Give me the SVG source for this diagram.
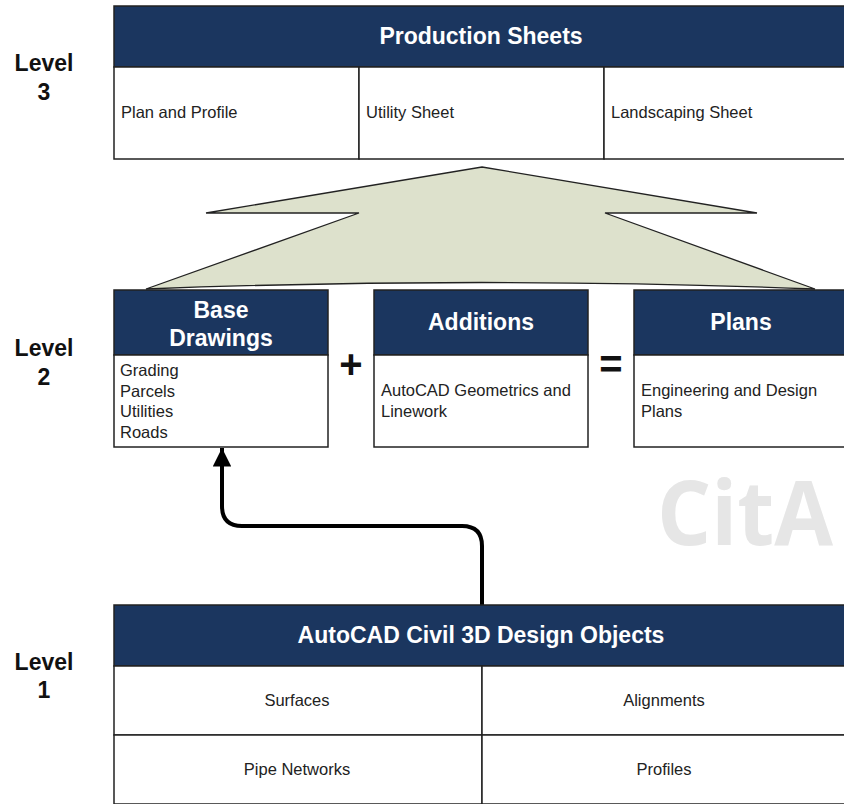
<svg xmlns="http://www.w3.org/2000/svg" width="844" height="804" viewBox="0 0 844 804">
<style>
.hdr{fill:#1b365f;stroke:#222;stroke-width:1.5}
.cell{fill:#fff;stroke:#222;stroke-width:1.5}
.ttl{font-family:"Liberation Sans",Arial,sans-serif;font-weight:bold;font-size:23px;fill:#fff;text-anchor:middle}
.txt{font-family:"Liberation Sans",Arial,sans-serif;font-size:16.5px;fill:#222}
.mid{text-anchor:middle}
.lvl{font-family:"Liberation Sans",Arial,sans-serif;font-weight:bold;font-size:23px;fill:#111;text-anchor:middle}
.op{font-family:"Liberation Sans",Arial,sans-serif;font-weight:bold;font-size:40px;fill:#111;text-anchor:middle}
</style>
<defs>
<marker id="ah" viewBox="0 0 10 10" refX="10" refY="5" markerWidth="4.8" markerHeight="4.6" orient="auto" markerUnits="strokeWidth">
<path d="M0,0 L10,5 L0,10 Z" fill="#000"/>
</marker>
</defs>
<rect width="844" height="804" fill="#fff"/>

<text x="657" y="545" font-family="'Open Sans','DejaVu Sans',sans-serif" font-weight="bold" font-size="90" fill="#e6e6e6" textLength="176" lengthAdjust="spacingAndGlyphs">CitA</text>

<g id="levels">
<text class="lvl" x="44" y="71">Level</text><text class="lvl" x="44" y="100">3</text>
<text class="lvl" x="44" y="356">Level</text><text class="lvl" x="44" y="385">2</text>
<text class="lvl" x="44" y="670">Level</text><text class="lvl" x="44" y="698">1</text>
</g>

<g id="big-arrow">
<path d="M482,167 L757,213 L605,213 L815,289 Q482,276 146,289 L359,213 L206,213 Z" fill="#dde1cc" stroke="#222" stroke-width="1.3" stroke-linejoin="miter"/>
</g>

<g id="production-sheets">
<rect class="hdr" x="114" y="6" width="740" height="61"/>
<text class="ttl" x="481" y="44">Production Sheets</text>
<rect class="cell" x="114" y="67" width="245" height="92"/>
<rect class="cell" x="359" y="67" width="245" height="92"/>
<rect class="cell" x="604" y="67" width="250" height="92"/>
<text class="txt" x="121" y="118">Plan and Profile</text>
<text class="txt" x="366" y="118">Utility Sheet</text>
<text class="txt" x="611" y="118">Landscaping Sheet</text>
</g>

<g id="base-drawings">
<rect class="hdr" x="114" y="290" width="214" height="65"/>
<text class="ttl" x="221" y="318">Base</text>
<text class="ttl" x="221" y="346">Drawings</text>
<rect class="cell" x="114" y="355" width="214" height="92"/>
<text class="txt" x="120" y="376">Grading</text>
<text class="txt" x="120" y="396.5">Parcels</text>
<text class="txt" x="120" y="417">Utilities</text>
<text class="txt" x="120" y="437.5">Roads</text>
</g>

<text class="op" x="351" y="378">+</text>

<g id="additions">
<rect class="hdr" x="374" y="290" width="214" height="65"/>
<text class="ttl" x="481" y="330">Additions</text>
<rect class="cell" x="374" y="355" width="214" height="92"/>
<text class="txt" x="381" y="396">AutoCAD Geometrics and</text>
<text class="txt" x="381" y="416.5">Linework</text>
</g>

<text class="op" x="611" y="378">=</text>

<g id="plans">
<rect class="hdr" x="634" y="290" width="220" height="65"/>
<text class="ttl" x="741" y="330">Plans</text>
<rect class="cell" x="634" y="355" width="220" height="92"/>
<text class="txt" x="641" y="396">Engineering and Design</text>
<text class="txt" x="641" y="416.5">Plans</text>
</g>

<g id="connectors">
<path d="M482,605 V546 Q482,526 462,526 H242 Q222,526 222,506 V448" fill="none" stroke="#000" stroke-width="4" marker-end="url(#ah)"/>
</g>

<g id="civil3d-objects">
<rect class="hdr" x="114" y="605" width="740" height="61"/>
<text class="ttl" x="481" y="643">AutoCAD Civil 3D Design Objects</text>
<rect class="cell" x="114" y="666" width="368" height="69"/>
<rect class="cell" x="482" y="666" width="372" height="69"/>
<rect class="cell" x="114" y="735" width="368" height="69"/>
<rect class="cell" x="482" y="735" width="372" height="69"/>
<text class="txt mid" x="297" y="706">Surfaces</text>
<text class="txt mid" x="664" y="706">Alignments</text>
<text class="txt mid" x="297" y="775">Pipe Networks</text>
<text class="txt mid" x="664" y="775">Profiles</text>
</g>
</svg>
